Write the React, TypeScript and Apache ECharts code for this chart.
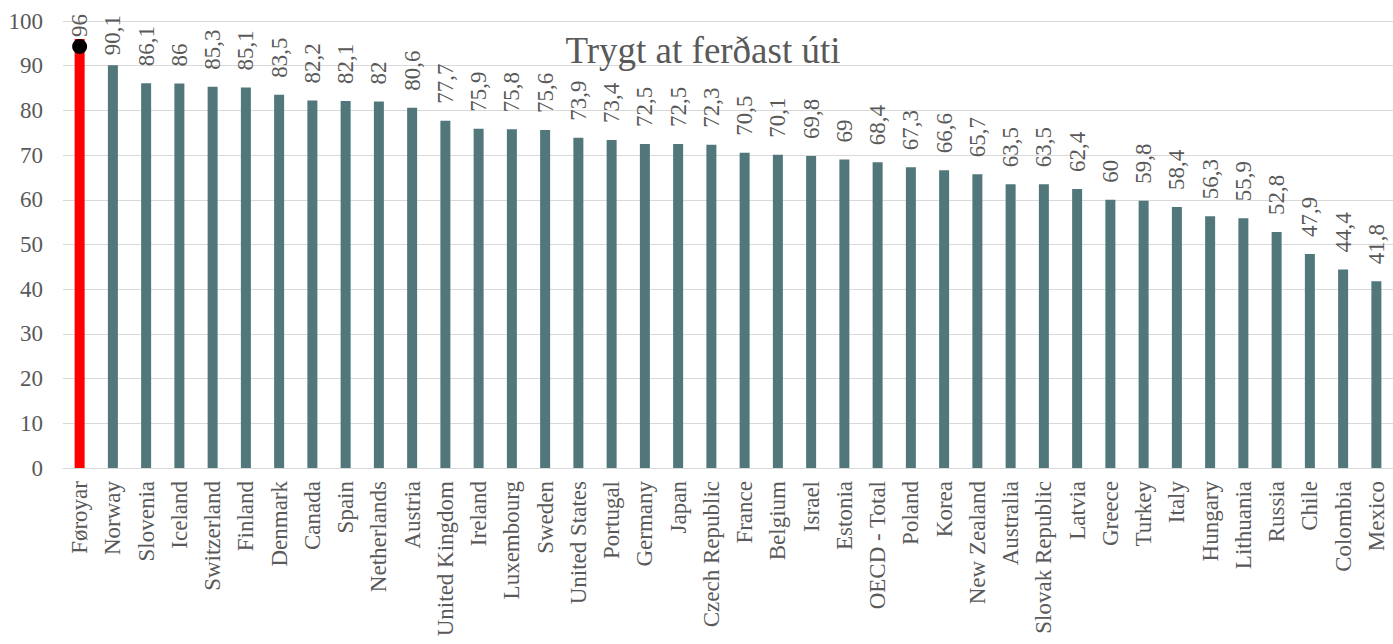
import React, { useEffect, useRef } from "react";
import * as echarts from "echarts";

const categories = [
  "Føroyar", "Norway", "Slovenia", "Iceland", "Switzerland", "Finland", "Denmark", "Canada", "Spain", "Netherlands",
  "Austria", "United Kingdom", "Ireland", "Luxembourg", "Sweden", "United States", "Portugal", "Germany", "Japan", "Czech Republic",
  "France", "Belgium", "Israel", "Estonia", "OECD - Total", "Poland", "Korea", "New Zealand", "Australia", "Slovak Republic",
  "Latvia", "Greece", "Turkey", "Italy", "Hungary", "Lithuania", "Russia", "Chile", "Colombia", "Mexico",
];
const values = [
  96, 90.1, 86.1, 86, 85.3, 85.1, 83.5, 82.2, 82.1, 82,
  80.6, 77.7, 75.9, 75.8, 75.6, 73.9, 73.4, 72.5, 72.5, 72.3,
  70.5, 70.1, 69.8, 69, 68.4, 67.3, 66.6, 65.7, 63.5, 63.5,
  62.4, 60, 59.8, 58.4, 56.3, 55.9, 52.8, 47.9, 44.4, 41.8,
];
const dotValues: (number | null)[] = [94.3];
const highlightCategory = "Føroyar";
const yTicks = { min: 0, max: 100, interval: 10 };
const title = "Trygt at ferðast úti";

const FONT = "'Liberation Serif', 'Times New Roman', serif";
const TEXT = "#595959";

export default function App() {
  const ref = useRef<HTMLDivElement>(null);
  useEffect(() => {
    document.body.style.margin = "0";
    const chart = echarts.init(ref.current!, undefined, { renderer: "svg" });
    chart.setOption({
      animation: false,
      title: {
        text: title,
        left: 698,
        textAlign: "center",
        top: 27,
        textStyle: { fontFamily: FONT, fontSize: 37, fontWeight: "normal", color: TEXT },
      },
      grid: { left: 63, right: 0, top: 21, bottom: 176, containLabel: false },
      xAxis: {
        type: "category",
        data: categories,
        axisLine: { show: true, lineStyle: { color: "#d9d9d9", width: 1 } },
        axisTick: { show: false },
        axisLabel: {
          rotate: 90,
          interval: 0,
          margin: 13,
          fontFamily: FONT,
          fontSize: 23,
          color: TEXT,
        },
      },
      yAxis: {
        type: "value",
        min: yTicks.min,
        max: yTicks.max,
        interval: yTicks.interval,
        axisLine: { show: false },
        axisTick: { show: false },
        splitLine: { show: true, lineStyle: { color: "#d9d9d9", width: 1 } },
        axisLabel: { fontFamily: FONT, fontSize: 23, color: TEXT, margin: 20 },
      },
      series: [
        {
          type: "bar",
          barWidth: 10,
          data: values.map((v, i) => {
            const item: any = {
              value: v,
              itemStyle: { color: categories[i] === highlightCategory ? "#ff0000" : "#52777a" },
            };
            if (i === 0) item.label = { distance: 2 };
            if (i === 1) item.label = { distance: 10 };
            return item;
          }),
          label: {
            show: true,
            position: "top",
            rotate: 90,
            align: "left",
            verticalAlign: "middle",
            distance: 17,
            fontFamily: FONT,
            fontSize: 23,
            color: TEXT,
            formatter: (p: any) => String(p.value).replace(".", ","),
          },
        },
        {
          type: "scatter",
          data: dotValues,
          symbol: "circle",
          symbolSize: 15,
          itemStyle: { color: "#000000", opacity: 1 },
          z: 5,
        },
      ],
    });
    return () => chart.dispose();
  }, []);
  return <div ref={ref} style={{ width: 1393, height: 644 }} />;
}
